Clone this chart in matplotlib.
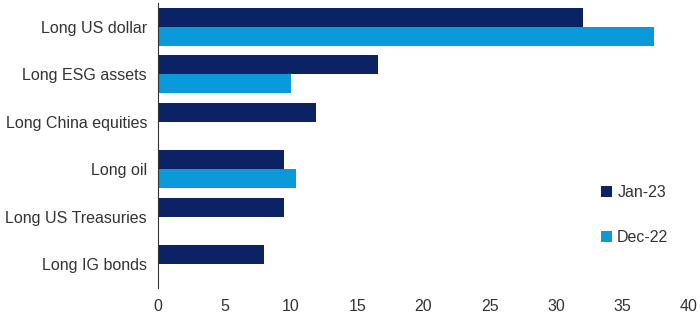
import matplotlib
matplotlib.use("Agg")
import matplotlib.pyplot as plt
import numpy as np
from matplotlib import font_manager

categories = ["Long US dollar", "Long ESG assets", "Long China equities",
              "Long oil", "Long US Treasuries", "Long IG bonds"]
jan23 = [32.0, 16.6, 11.9, 9.5, 9.5, 8.0]
dec22 = [37.4, 10.0, 0, 10.4, 0, 0]
series_names = ["Jan-23", "Dec-22"]
xticks = [0, 5, 10, 15, 20, 25, 30, 35, 40]

names = {f.name for f in font_manager.fontManager.ttflist}
fam = "Liberation Sans Narrow" if "Liberation Sans Narrow" in names else "Liberation Sans"
plt.rcParams['font.family'] = [fam, 'DejaVu Sans']

c_jan = "#0b2265"
c_dec = "#0a9ad9"

fig = plt.figure(figsize=(7, 3.25), dpi=100)
ax = fig.add_axes([0.226, 0.114, 0.758, 0.877])

y = np.arange(len(categories))
h = 0.4
ax.barh(y - h/2, jan23, height=h, color=c_jan, label=series_names[0])
ax.barh(y + h/2, dec22, height=h, color=c_dec, label=series_names[1])

ax.set_ylim(len(categories) - 0.5, -0.5)
ax.set_xlim(0, 40)
ax.set_xticks(xticks)
ax.set_yticks(y)
ax.set_yticklabels(categories, fontsize=11.5, color="#333333")
ax.tick_params(axis='x', labelsize=11.5, colors="#333333", length=0, pad=8)
ax.tick_params(axis='y', length=0, pad=8)
for s in ["top", "right", "bottom"]:
    ax.spines[s].set_visible(False)
ax.spines["left"].set_color("#333333")
ax.spines["left"].set_linewidth(0.8)

leg = ax.legend(loc="center left", bbox_to_anchor=(0.835, 0.256), frameon=False,
                fontsize=11.5, handlelength=0.7, handleheight=0.7, handletextpad=0.3,
                labelspacing=1.85, borderaxespad=0, borderpad=0)
for t in leg.get_texts():
    t.set_color("#333333")

fig.savefig("out.png", dpi=100)
